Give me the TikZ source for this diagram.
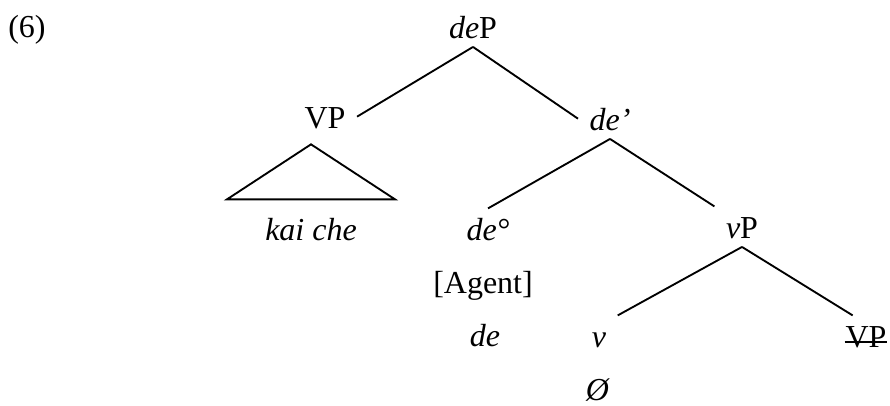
\documentclass[tikz,border=0pt]{standalone}
\usepackage{fontspec}
\setmainfont{Liberation Serif}
\begin{document}
\begin{tikzpicture}[x=0.375pt,y=-0.375pt,line width=0.7pt,
  every node/.style={anchor=base,inner xsep=4pt,inner ysep=3pt,text height=8.5pt,text depth=0pt,font=\fontsize{12}{14}\selectfont}]
\useasboundingbox (0,0) rectangle (890,405);

% Example number
\node (ex) at (27,37) {(6)};

% Top of the tree
\node (deP) at (473,38) {\textit{de}P};
\node (VP) at (325,128) {VP};
\node (deBar) at (610,130) {\textit{de’}};
\draw (deP.south) -- (VP.east);
\draw (deP.south) -- (deBar.west);

% Roof over the verb phrase
\node (kai) at (311,240) {\textit{kai che}};
\draw ([yshift=3.4pt]kai.north) ++(-84,0) -- ++(84,-55) -- ++(84,55) -- cycle;

% Head and what it carries
\node (deHead) at (488,240) {\textit{de°}};
\node (agent) at (483,293) {[Agent]};
\node (deForm) at (485,346) {\textit{de}};
\draw (deBar.south) -- (deHead.north);

% Little v phrase
\node (vP) at (742,238) {\textit{v}P};
\node (v) at (599,347) {\textit{v}};
\node (null) at (598,400) {\textit{Ø}};
\node (VPc) at (866,347) {VP};
\draw (deBar.south) -- (vP.north west);
\draw (vP.south) -- (v.north east);
\draw (vP.south) -- ([xshift=-5pt]VPc.north);
\draw[shorten <=4pt,shorten >=4pt] ([yshift=2pt]VPc.base west) -- ([yshift=2pt]VPc.base east);
\end{tikzpicture}
\end{document}
